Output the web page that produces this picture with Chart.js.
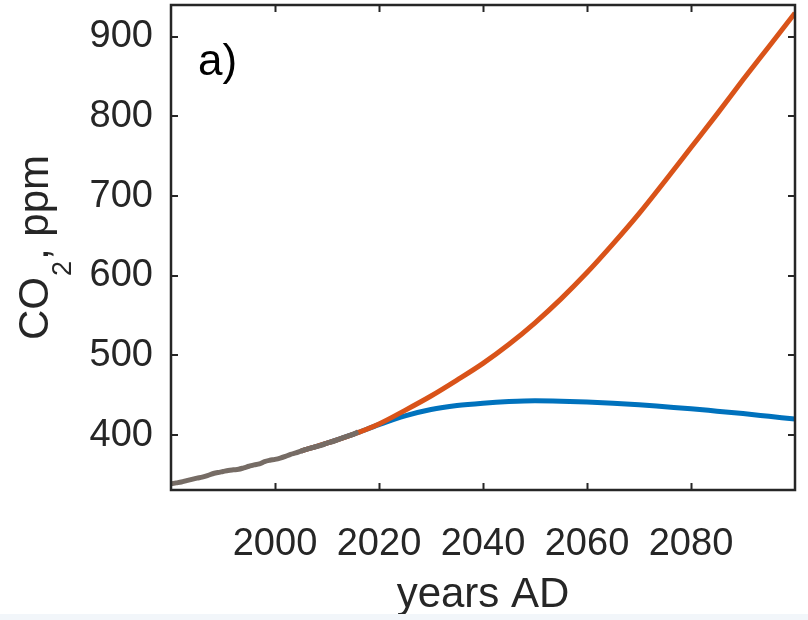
<!DOCTYPE html>
<html>
<head>
<meta charset="utf-8">
<script src="https://cdn.jsdelivr.net/npm/chart.js@4.4.1/dist/chart.umd.min.js"></script>
<style>
  html, body { margin: 0; padding: 0; background: #fff; }
  #wrap { position: relative; width: 808px; height: 620px; overflow: hidden; }
  #strip { position: absolute; left: 0; top: 614px; width: 808px; height: 6px; background: #f2f6fa; }
</style>
</head>
<body>
<div id="wrap">
  <canvas id="co2Chart" width="808" height="620"></canvas>
  <div id="strip"></div>
</div>
<script>
/* ---- data ---- */
const histYears = [1980,1981,1982,1983,1984,1985,1986,1987,1988,1989,1990,1991,1992,1993,1994,1995,1996,1997,1998,1999,2000,2001,2002,2003,2004,2005,2006,2007,2008,2009,2010,2011,2012,2013,2014,2015,2016];
const histCO2  = [338.7,339.9,341.1,342.8,344.4,345.9,347.2,349.0,351.4,352.9,354.2,355.5,356.3,357.0,358.8,360.8,362.6,363.7,366.6,368.3,369.5,371.1,373.2,375.8,377.5,379.8,381.9,383.8,385.6,387.4,389.9,391.6,393.9,396.5,398.6,400.8,404.2];

const projYears = [2005,2010,2015,2020,2025,2030,2035,2040,2045,2050,2055,2060,2065,2070,2075,2080,2085,2090,2095,2100];
const highCO2   = [379.8,389.9,400.8,414,431,449,469,490,514,541,571,604,640,678,719,761,803,846,888,930];
const lowCO2    = [379.8,389.9,400.8,413,424,432,437,440,442,443,442.5,441.5,440,438,435.5,433,430,427,423.5,420];

const xTicks = [2000,2020,2040,2060,2080];
const yTicks = [400,500,600,700,800,900];

const INK  = '#262626';
const FONT = '"Liberation Sans", Arial, sans-serif';

const pts = (xs, ys) => xs.map((x, i) => ({ x, y: ys[i] }));

/* box, inward ticks, panel label and axis titles (MATLAB look) */
const boxPlugin = {
  id: 'box',
  afterDraw(chart) {
    const { ctx, chartArea: a, scales: { x, y } } = chart;
    const TL = 7;
    ctx.save();
    ctx.strokeStyle = INK;
    ctx.lineWidth = 2;
    ctx.beginPath();
    x.ticks.forEach(t => {
      const px = Math.round(x.getPixelForValue(t.value)) + 0.5;
      ctx.moveTo(px, a.bottom); ctx.lineTo(px, a.bottom - TL);
      ctx.moveTo(px, a.top);    ctx.lineTo(px, a.top + TL);
    });
    y.ticks.forEach(t => {
      const py = Math.round(y.getPixelForValue(t.value));
      ctx.moveTo(a.left, py);  ctx.lineTo(a.left + TL, py);
      ctx.moveTo(a.right, py); ctx.lineTo(a.right - TL, py);
    });
    ctx.stroke();
    ctx.lineWidth = 2.5;
    ctx.strokeRect(a.left, a.top, a.right - a.left, a.bottom - a.top);

    // panel label
    ctx.fillStyle = '#000';
    ctx.textBaseline = 'alphabetic';
    ctx.textAlign = 'left';
    ctx.font = '44px ' + FONT;
    ctx.fillText('a)', a.left + 27, a.top + 70);

    // x title
    ctx.fillStyle = INK;
    ctx.font = '42px ' + FONT;
    ctx.textAlign = 'center';
    ctx.fillText('years AD', (a.left + a.right) / 2, 607);

    // y title with subscript, rotated
    const big = '42px ' + FONT, small = '27px ' + FONT;
    ctx.font = big;
    const w1 = ctx.measureText('CO').width;
    const w3 = ctx.measureText(', ppm').width;
    ctx.font = small;
    const w2 = ctx.measureText('2').width + 2;
    const total = w1 + w2 + w3;
    ctx.translate(48, (a.top + a.bottom) / 2);
    ctx.rotate(-Math.PI / 2);
    ctx.textAlign = 'left';
    let cx = -total / 2;
    ctx.font = big;   ctx.fillText('CO', cx, 0); cx += w1;
    ctx.font = small; ctx.fillText('2', cx + 1, 23); cx += w2;
    ctx.font = big;   ctx.fillText(', ppm', cx, 0);
    ctx.restore();
  }
};

const lineDs = (label, data, color, order) => ({
  label, data,
  borderColor: color,
  backgroundColor: color,
  borderWidth: 5,
  pointRadius: 0,
  fill: false,
  cubicInterpolationMode: 'monotone',
  order
});

new Chart(document.getElementById('co2Chart'), {
  type: 'line',
  data: {
    datasets: [
      lineDs('observed', pts(histYears, histCO2), '#766c65', 0),
      lineDs('high', pts(projYears, highCO2), '#D95319', 1),
      lineDs('low', pts(projYears, lowCO2), '#0072BD', 2)
    ]
  },
  options: {
    responsive: false,
    animation: false,
    devicePixelRatio: 1,
    layout: { padding: { left: 0, top: 5, right: 13, bottom: 0 } },
    plugins: { legend: { display: false }, tooltip: { enabled: false } },
    scales: {
      x: {
        type: 'linear',
        min: 1980, max: 2100,
        afterBuildTicks: s => { s.ticks = xTicks.map(v => ({ value: v })); },
        afterFit: s => { s.height = 130; s.paddingLeft = 0; s.paddingRight = 0; },
        grid: { display: false, drawTicks: false },
        border: { display: false },
        ticks: { color: INK, font: { family: FONT, size: 38 }, padding: 32, maxRotation: 0, autoSkip: false, callback: v => String(v) }
      },
      y: {
        min: 331, max: 940,
        afterBuildTicks: s => { s.ticks = yTicks.map(v => ({ value: v })); },
        afterFit: s => { s.width = 171; s.paddingTop = 0; s.paddingBottom = 0; },
        grid: { display: false, drawTicks: false },
        border: { display: false },
        ticks: { color: INK, font: { family: FONT, size: 38 }, padding: 18 }
      }
    }
  },
  plugins: [boxPlugin]
});
</script>
</body>
</html>
